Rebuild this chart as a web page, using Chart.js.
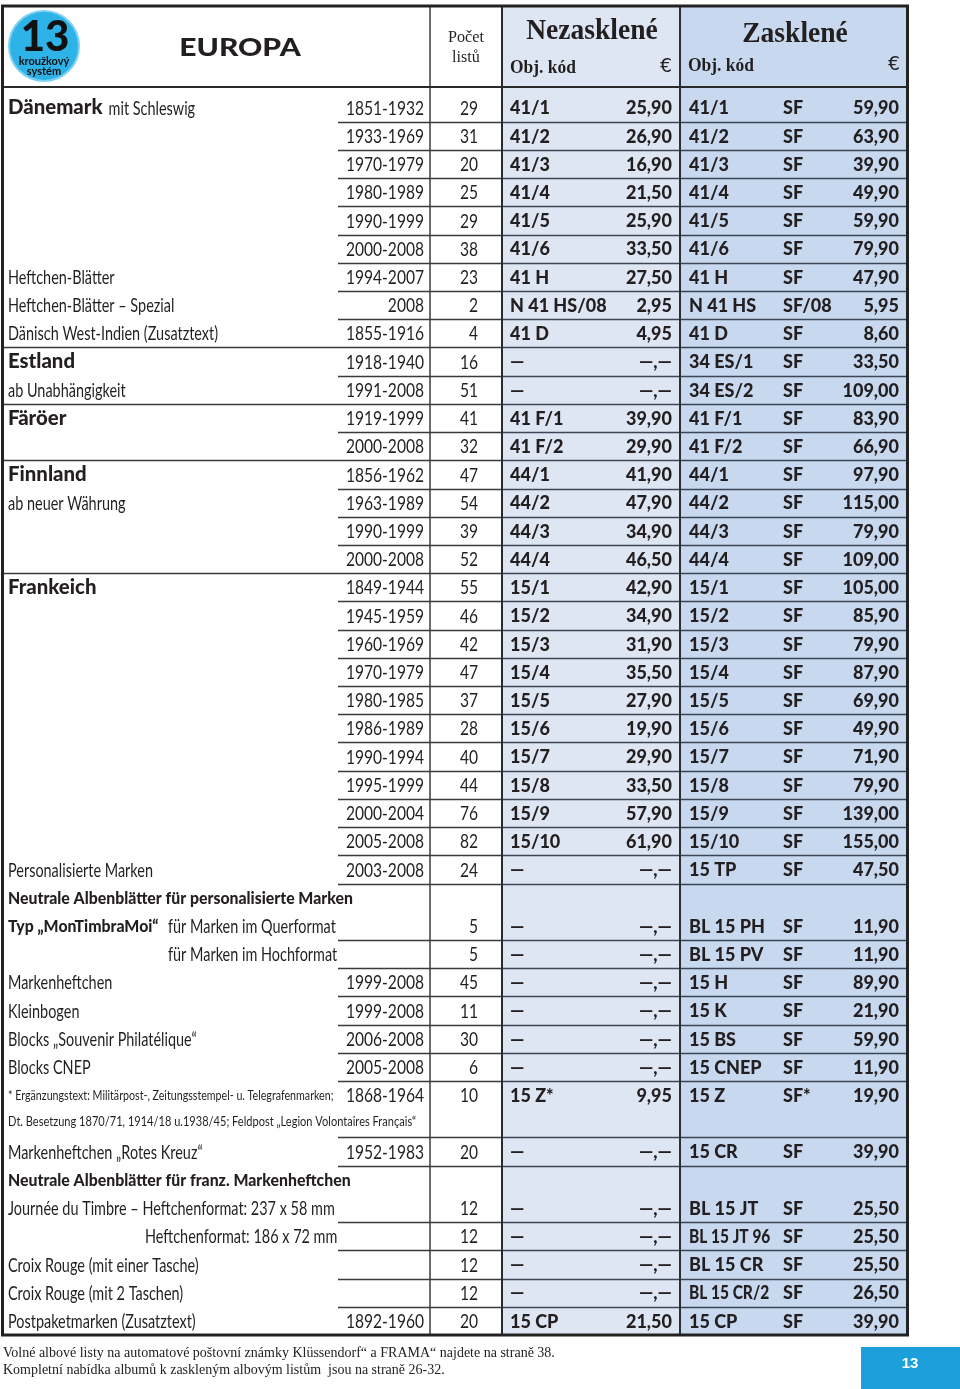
<!DOCTYPE html>
<html>
<head>
<meta charset="utf-8">
<script src="https://cdn.jsdelivr.net/npm/chart.js@4.4.1/dist/chart.umd.min.js"></script>
<style>
  html, body { margin: 0; padding: 0; background: #fff; }
  canvas { display: block; }
</style>
</head>
<body>
<canvas id="sheet" width="960" height="1389"></canvas>
<script>
// ---- table data (one entry per row) ----
var sections = ['Dänemark', '', '', '', '', '', '', '', '', 'Estland', '', 'Färöer', '', 'Finnland', '', '', '', 'Frankeich',
  '', '', '', '', '', '', '', '', '', '', '', '', '', '', '', '', '', '', '', '', '', '', '', '', '', ''];
var boldLabels = ['', '', '', '', '', '', '', '', '', '', '', '', '', '', '', '', '', '', '', '', '', '', '', '', '', '', '', '',
  'Neutrale Albenblätter für personalisierte Marken', 'Typ „MonTimbraMoi“', '', '', '', '', '', '', '', '',
  'Neutrale Albenblätter für franz. Markenheftchen', '', '', '', '', ''];
var labels = ['mit Schleswig', '', '', '', '', '', 'Heftchen-Blätter', 'Heftchen-Blätter – Spezial', 'Dänisch West-Indien (Zusatztext)',
  '', 'ab Unabhängigkeit', '', '', '', 'ab neuer Währung', '', '', '', '', '', '', '', '', '', '', '', '', 'Personalisierte Marken',
  '', 'für Marken im Querformat', 'für Marken im Hochformat', 'Markenheftchen', 'Kleinbogen', 'Blocks „Souvenir Philatélique“',
  'Blocks CNEP', '', '', 'Markenheftchen „Rotes Kreuz“', '', 'Journée du Timbre – Heftchenformat: 237 x 58 mm',
  'Heftchenformat: 186 x 72 mm', 'Croix Rouge (mit einer Tasche)', 'Croix Rouge (mit 2 Taschen)', 'Postpaketmarken (Zusatztext)'];
var notes = {
  35: '* Ergänzungstext: Militärpost-, Zeitungsstempel- u. Telegrafenmarken;',
  36: 'Dt. Besetzung 1870/71, 1914/18 u.1938/45; Feldpost „Legion Volontaires Français“'
};
var years = ['1851-1932', '1933-1969', '1970-1979', '1980-1989', '1990-1999', '2000-2008', '1994-2007', '2008', '1855-1916',
  '1918-1940', '1991-2008', '1919-1999', '2000-2008', '1856-1962', '1963-1989', '1990-1999', '2000-2008', '1849-1944',
  '1945-1959', '1960-1969', '1970-1979', '1980-1985', '1986-1989', '1990-1994', '1995-1999', '2000-2004', '2005-2008',
  '2003-2008', '', '', '', '1999-2008', '1999-2008', '2006-2008', '2005-2008', '1868-1964', '', '1952-1983', '', '', '', '', '',
  '1892-1960'];
var sheets = [29, 31, 20, 25, 29, 38, 23, 2, 4, 16, 51, 41, 32, 47, 54, 39, 52, 55, 46, 42, 47, 37, 28, 40, 44, 76, 82, 24,
  null, 5, 5, 45, 11, 30, 6, 10, null, 20, null, 12, 12, 12, 12, 20];
var plainCodes = ['41/1', '41/2', '41/3', '41/4', '41/5', '41/6', '41 H', 'N 41 HS/08', '41 D', '—', '—', '41 F/1', '41 F/2',
  '44/1', '44/2', '44/3', '44/4', '15/1', '15/2', '15/3', '15/4', '15/5', '15/6', '15/7', '15/8', '15/9', '15/10', '—',
  '', '—', '—', '—', '—', '—', '—', '15 Z*', '', '—', '', '—', '—', '—', '—', '15 CP'];
var plainPrices = [25.90, 26.90, 16.90, 21.50, 25.90, 33.50, 27.50, 2.95, 4.95, null, null, 39.90, 29.90, 41.90, 47.90, 34.90,
  46.50, 42.90, 34.90, 31.90, 35.50, 27.90, 19.90, 29.90, 33.50, 57.90, 61.90, null, null, null, null, null, null, null, null,
  9.95, null, null, null, null, null, null, null, 21.50];
var framedCodes = ['41/1', '41/2', '41/3', '41/4', '41/5', '41/6', '41 H', 'N 41 HS', '41 D', '34 ES/1', '34 ES/2', '41 F/1',
  '41 F/2', '44/1', '44/2', '44/3', '44/4', '15/1', '15/2', '15/3', '15/4', '15/5', '15/6', '15/7', '15/8', '15/9', '15/10',
  '15 TP', '', 'BL 15 PH', 'BL 15 PV', '15 H', '15 K', '15 BS', '15 CNEP', '15 Z', '', '15 CR', '', 'BL 15 JT', 'BL 15 JT 96',
  'BL 15 CR', 'BL 15 CR/2', '15 CP'];
var framedTypes = ['SF', 'SF', 'SF', 'SF', 'SF', 'SF', 'SF', 'SF/08', 'SF', 'SF', 'SF', 'SF', 'SF', 'SF', 'SF', 'SF', 'SF',
  'SF', 'SF', 'SF', 'SF', 'SF', 'SF', 'SF', 'SF', 'SF', 'SF', 'SF', '', 'SF', 'SF', 'SF', 'SF', 'SF', 'SF', 'SF*', '', 'SF', '',
  'SF', 'SF', 'SF', 'SF', 'SF'];
var framedPrices = [59.90, 63.90, 39.90, 49.90, 59.90, 79.90, 47.90, 5.95, 8.60, 33.50, 109.00, 83.90, 66.90, 97.90, 115.00,
  79.90, 109.00, 105.00, 85.90, 79.90, 87.90, 69.90, 49.90, 71.90, 79.90, 139.00, 155.00, 47.50, null, 11.90, 11.90, 89.90,
  21.90, 59.90, 11.90, 19.90, null, 39.90, null, 25.50, 25.50, 25.50, 26.50, 39.90];

var footerLines = [
  'Volné albové listy na automatové poštovní známky Klüssendorf“ a FRAMA“ najdete na straně 38.',
  'Kompletní nabídka albumů k zaskleným albovým listům  jsou na straně 26-32.'
];

// ---- layout ----
var COL = { left: 2, years: 338, sheets: 430, nez: 502, zas: 680, right: 907 };
var HEAD_TOP = 6;
var FIRST_ROW = -0.73;           // extra space above row 0
var MERGED = [28, 35, 38];       // no rule below these rows in the right part
var FULL_RULE = [8, 10, 12, 16]; // rule below these rows spans the whole table
var INDENT = { 29: 168, 30: 168, 40: 145 };

var INK = '#231f20';
var NEZ_BG = '#dfe6f3';
var ZAS_BG = '#c8d9ef';
var RULE = '#3a3a3a';
var BLUE_RULE = '#3c4556';

var SANS = 'Lato, "DejaVu Sans", sans-serif';
var SERIF = '"Liberation Serif", "DejaVu Serif", serif';

function text(ctx, s, x, y, font, align, sx, color) {
    ctx.save();
    ctx.font = font;
    ctx.fillStyle = color || INK;
    ctx.textBaseline = 'middle';
    ctx.textAlign = align || 'left';
    ctx.translate(x, y);
    ctx.scale(sx || 1, 1);
    ctx.fillText(s, 0, 0);
    var w = ctx.measureText(s).width * (sx || 1);
    ctx.restore();
    return w;
}

function hline(ctx, x0, x1, y, w, c) {
    ctx.strokeStyle = c; ctx.lineWidth = w;
    ctx.beginPath(); ctx.moveTo(x0, y); ctx.lineTo(x1, y); ctx.stroke();
}

function vline(ctx, x, y0, y1, w, c) {
    ctx.strokeStyle = c; ctx.lineWidth = w;
    ctx.beginPath(); ctx.moveTo(x, y0); ctx.lineTo(x, y1); ctx.stroke();
}

function price(v) {
    return v == null ? '—,—' : v.toFixed(2).replace('.', ',');
}

var sheetPlugin = {
    id: 'sheet',
    beforeDraw: function (chart) {
        var ctx = chart.ctx, xs = chart.scales.x, ys = chart.scales.y;
        ctx.save();
        ctx.fillStyle = '#fff';
        ctx.fillRect(0, 0, chart.width, chart.height);
        // header part of the two blue columns (and an underlay so the row bars show no seams)
        var bottom = ys.getPixelForValue(years.length - 0.5);
        var xn = xs.getPixelForValue(COL.nez), xz = xs.getPixelForValue(COL.zas), xr = xs.getPixelForValue(COL.right);
        ctx.fillStyle = NEZ_BG; ctx.fillRect(xn, HEAD_TOP, xz - xn, bottom - HEAD_TOP);
        ctx.fillStyle = ZAS_BG; ctx.fillRect(xz, HEAD_TOP, xr - xz, bottom - HEAD_TOP);
        ctx.restore();
    },
    afterDatasetsDraw: function (chart) {
        var ctx = chart.ctx, xs = chart.scales.x, ys = chart.scales.y;
        var X = function (v) { return xs.getPixelForValue(v); };
        var headBottom = ys.getPixelForValue(FIRST_ROW);
        var tableBottom = ys.getPixelForValue(years.length - 0.5);
        ctx.save();

        // row rules
        for (var b = 0; b < years.length - 1; b++) {
            if (MERGED.indexOf(b) >= 0) continue;
            var yy = Math.round(ys.getPixelForValue(b + 0.5)) + 0.5;
            var x0 = FULL_RULE.indexOf(b) >= 0 ? COL.left : COL.years;
            hline(ctx, X(x0), X(COL.nez), yy, 1.4, RULE);
            hline(ctx, X(COL.nez), X(COL.right), yy, 1.4, BLUE_RULE);
        }
        // column rules
        vline(ctx, X(COL.sheets), HEAD_TOP, tableBottom, 1.5, RULE);
        vline(ctx, X(COL.nez), HEAD_TOP, tableBottom, 2, '#2a2a2a');
        vline(ctx, X(COL.zas), HEAD_TOP, tableBottom, 2, '#2a2f3a');
        hline(ctx, X(COL.left), X(COL.right), headBottom, 2, '#2a2a2a');
        ctx.strokeStyle = '#222'; ctx.lineWidth = 3;
        ctx.strokeRect(X(COL.left) + 0.5, HEAD_TOP, X(COL.right) - X(COL.left), tableBottom - HEAD_TOP);

        // header
        ctx.fillStyle = '#2eb3e8';
        ctx.beginPath(); ctx.arc(44, 46, 35, 0, Math.PI * 2); ctx.fill();
        ctx.strokeStyle = '#7fd0f2'; ctx.lineWidth = 2; ctx.stroke();
        text(ctx, '13', 45, 37, '900 42px ' + SANS, 'center', 1.0, '#111');
        text(ctx, 'kroužkový', 44, 61, 'bold 11px ' + SANS, 'center', 1.0, '#111');
        text(ctx, 'systém', 44, 71, 'bold 11px ' + SANS, 'center', 1.0, '#111');
        text(ctx, 'EUROPA', 240, 48, '900 25px ' + SANS, 'center', 1.2);
        text(ctx, 'Počet', 466, 38, '17px ' + SERIF, 'center', 0.95);
        text(ctx, 'listů', 466, 58, '17px ' + SERIF, 'center', 0.95);
        text(ctx, 'Nezasklené', (COL.nez + COL.zas) / 2 + 1, 32, 'bold 29px ' + SERIF, 'center', 0.95);
        text(ctx, 'Zasklené', 795, 35, 'bold 29px ' + SERIF, 'center', 0.95);
        text(ctx, 'Obj. kód', 510, 68, 'bold 18px ' + SERIF, 'left', 0.97);
        text(ctx, 'Obj. kód', 688, 66, 'bold 18px ' + SERIF, 'left', 0.97);
        text(ctx, '€', 672, 67, '19px "DejaVu Sans"', 'right', 1);
        text(ctx, '€', 900, 65, '19px "DejaVu Sans"', 'right', 1);

        // body rows
        var normal = '19px ' + SANS, heavy = '900 18px ' + SANS;
        for (var i = 0; i < years.length; i++) {
            var y = ys.getPixelForValue(i) + 1;
            var x = 8;
            if (sections[i]) x += text(ctx, sections[i], x, y - 1, '900 21px ' + SANS, 'left', 0.97) + 6;
            if (boldLabels[i]) x += text(ctx, boldLabels[i], x, y, '900 17px ' + SANS, 'left', 0.93) + 8;
            if (INDENT[i]) x = INDENT[i];
            if (labels[i]) text(ctx, labels[i], x, y, normal, 'left', 0.76);
            if (notes[i]) text(ctx, notes[i], 8, i === 36 ? y - 3 : y, '13px ' + SANS, 'left', i === 36 ? 0.85 : 0.82);
            if (years[i]) text(ctx, years[i], 424, y, normal, 'right', 0.82);
            if (sheets[i] != null) text(ctx, String(sheets[i]), 478, y, normal, 'right', 0.82);
            if (plainCodes[i]) {
                text(ctx, plainCodes[i], 510, y, heavy, 'left', 1);
                text(ctx, price(plainPrices[i]), 672, y, heavy, 'right', 1);
            }
            if (framedCodes[i]) {
                text(ctx, framedCodes[i], 689, y, heavy, 'left', framedCodes[i].length > 8 ? 0.86 : 1);
                text(ctx, framedTypes[i], 783, y, heavy, 'left', 1);
                text(ctx, price(framedPrices[i]), 899, y, heavy, 'right', 1);
            }
        }

        // footer
        text(ctx, footerLines[0], 3, 1353, '14px ' + SERIF, 'left', 1.0, '#222');
        text(ctx, footerLines[1], 3, 1370, '14px ' + SERIF, 'left', 1.0, '#222');
        ctx.fillStyle = '#1d9fdc';
        ctx.fillRect(861, 1347, 99, 42);
        text(ctx, '13', 910, 1364, 'bold 15px "Liberation Sans"', 'center', 1, '#fff');
        ctx.restore();
    }
};

var rows = years.map(function (_, i) { return i; });

new Chart(document.getElementById('sheet').getContext('2d'), {
    type: 'bar',
    data: {
        datasets: [{
            label: 'Nezasklené',
            data: rows.map(function (i) { return { y: i, x: [COL.nez, COL.zas] }; }),
            backgroundColor: NEZ_BG
        }, {
            label: 'Zasklené',
            data: rows.map(function (i) { return { y: i, x: [COL.zas, COL.right] }; }),
            backgroundColor: ZAS_BG
        }]
    },
    options: {
        indexAxis: 'y',
        responsive: false,
        animation: false,
        devicePixelRatio: 1,
        layout: { padding: { top: 87, bottom: 54, left: 0, right: 0 } },
        datasets: {
            bar: { grouped: false, categoryPercentage: 1, barPercentage: 1, inflateAmount: 0, borderWidth: 0 }
        },
        scales: {
            x: { type: 'linear', min: 0, max: 960, offset: false, display: false },
            y: { type: 'linear', min: FIRST_ROW, max: years.length - 0.5, reverse: true, offset: false, display: false }
        },
        plugins: { legend: { display: false }, tooltip: { enabled: false } }
    },
    plugins: [sheetPlugin]
});
</script>
</body>
</html>
